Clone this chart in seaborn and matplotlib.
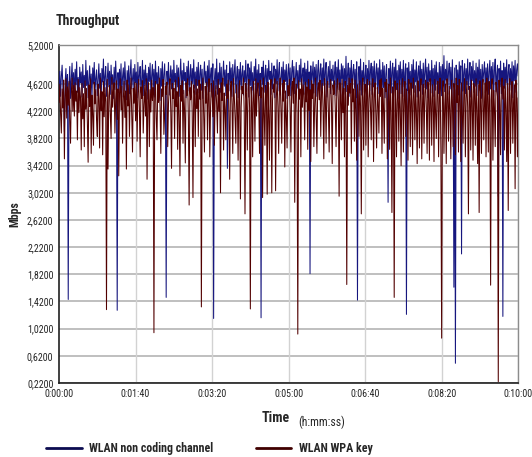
import pandas as pd
import matplotlib
matplotlib.use("Agg")
import matplotlib.pyplot as plt
from matplotlib.lines import Line2D
import seaborn as sns

# one sample per second over 10 minutes (0 .. 600 s)

# WLAN non coding channel (Mbps), 20 s per row
non_coding = [
    4.52, 4.81, 4.44, 4.73, 4.90, 4.58, 4.39, 3.92, 4.66, 4.85, 4.47, 4.76, 1.45, 4.62, 4.88, 4.41, 4.70, 4.93, 4.55, 4.79,
    4.46, 4.84, 4.61, 4.95, 4.50, 4.72, 4.38, 4.87, 4.64, 4.80, 4.43, 4.91, 4.57, 4.75, 4.48, 4.97, 4.60, 4.82, 4.42, 4.69,
    4.89, 4.53, 4.77, 4.40, 4.86, 4.63, 4.94, 4.49, 4.71, 4.83, 4.45, 4.68, 4.92, 4.56, 4.78, 4.37, 4.85, 4.65, 4.99, 4.51,
    4.74, 4.88, 4.44, 4.70, 4.93, 4.58, 4.81, 4.47, 4.90, 4.62, 4.76, 4.41, 4.87, 4.54, 4.96, 4.66, 1.29, 4.79, 4.50, 4.84,
    4.59, 4.92, 4.43, 4.73, 4.86, 4.52, 4.95, 4.68, 4.39, 4.82, 4.61, 4.89, 4.48, 4.77, 4.98, 4.55, 4.71, 4.85, 4.46, 4.91,
    4.64, 4.80, 4.42, 4.94, 4.57, 4.75, 4.88, 4.50, 4.69, 4.97, 4.45, 4.83, 4.60, 4.90, 4.53, 4.78, 4.40, 4.87, 4.66, 4.93,
    4.49, 4.74, 4.91, 4.56, 4.84, 4.43, 4.96, 4.63, 4.79, 4.51, 4.88, 4.70, 4.38, 4.85, 4.59, 4.95, 4.47, 4.76, 4.92, 4.54,
    1.48, 4.81, 4.62, 4.94, 4.46, 4.72, 4.89, 4.55, 4.83, 4.41, 4.97, 4.65, 4.78, 4.50, 4.90, 4.58, 4.86, 4.44, 4.75, 4.99,
    4.57, 4.82, 4.48, 4.93, 4.67, 4.79, 4.42, 4.88, 4.61, 4.96, 4.52, 4.74, 4.91, 4.45, 4.85, 4.63, 4.98, 4.56, 4.80, 4.47,
    4.87, 4.60, 4.94, 4.49, 4.77, 4.90, 4.53, 4.84, 4.41, 4.72, 4.95, 4.64, 4.81, 4.46, 4.89, 4.58, 4.97, 4.51, 4.76, 4.86,
    4.43, 4.92, 1.17, 4.68, 4.85, 4.55, 4.99, 4.47, 4.79, 4.62, 4.93, 4.50, 4.87, 4.40, 4.74, 4.96, 4.59, 4.83, 4.45, 4.90,
    3.38, 4.78, 4.52, 4.95, 4.64, 4.86, 4.44, 4.91, 4.57, 4.80, 4.98, 4.49, 4.73, 4.88, 4.42, 4.84, 4.61, 4.94, 4.54, 4.77,
    4.89, 4.46, 4.82, 4.65, 4.97, 4.51, 4.75, 4.92, 4.43, 4.86, 4.60, 4.95, 4.53, 4.79, 4.40, 4.88, 4.67, 4.99, 4.48, 4.83,
    4.56, 4.91, 4.45, 4.78, 1.18, 4.87, 4.62, 4.96, 4.50, 4.74, 4.90, 4.44, 4.85, 4.58, 4.97, 4.69, 4.81, 4.47, 4.93, 4.55,
    4.76, 4.89, 4.42, 4.84, 4.63, 4.98, 4.52, 4.80, 4.94, 4.46, 4.71, 4.87, 4.57, 4.95, 4.49, 4.83, 4.66, 4.91, 4.41, 4.78,
    4.92, 4.54, 4.86, 4.45, 4.79, 4.97, 4.60, 4.88, 4.48, 4.73, 4.94, 4.56, 4.82, 4.43, 4.90, 4.65, 4.99, 4.51, 4.77, 4.86,
    4.47, 4.93, 4.61, 4.84, 4.55, 4.96, 4.42, 4.80, 1.83, 4.89, 4.58, 4.75, 4.95, 4.49, 4.87, 4.64, 4.91, 4.44, 4.82, 4.97,
    4.53, 4.78, 4.92, 4.46, 4.86, 4.60, 4.99, 4.50, 4.81, 4.94, 4.43, 4.73, 4.88, 4.57, 4.96, 4.48, 4.84, 4.67, 4.90, 4.52,
    4.79, 4.95, 4.45, 4.87, 4.62, 4.98, 4.54, 4.83, 4.41, 4.92, 4.70, 4.89, 4.47, 4.85, 4.59, 5.03, 4.51, 4.77, 4.93, 4.44,
    4.86, 4.63, 4.97, 4.49, 4.80, 4.91, 4.56, 4.84, 4.42, 4.95, 1.44, 4.78, 4.88, 4.53, 4.99, 4.46, 4.82, 4.65, 4.94, 4.50,
    4.75, 4.90, 4.44, 4.85, 4.61, 4.97, 4.52, 4.81, 4.93, 4.47, 4.88, 4.58, 4.96, 4.43, 4.79, 4.92, 4.55, 4.86, 4.48, 4.98,
    4.62, 4.83, 4.46, 4.94, 4.57, 4.89, 4.42, 4.77, 4.91, 4.51, 2.88, 4.85, 4.60, 4.96, 4.49, 4.80, 4.93, 4.45, 4.87, 4.64,
    4.99, 4.54, 4.82, 4.41, 4.90, 4.68, 4.95, 4.48, 4.84, 4.58, 4.97, 4.44, 4.79, 4.92, 1.23, 4.86, 4.53, 4.94, 4.63, 4.81,
    4.46, 4.91, 4.56, 4.98, 4.50, 4.83, 4.65, 4.95, 4.43, 4.78, 4.89, 4.52, 4.96, 4.61, 4.84, 4.47, 4.93, 4.57, 4.80, 4.99,
    4.55, 4.87, 4.42, 4.92, 4.66, 4.82, 4.49, 4.97, 4.59, 4.85, 4.44, 4.90, 4.53, 4.95, 4.62, 4.79, 4.48, 4.94, 4.57, 4.88,
    4.45, 4.91, 4.60, 5.04, 4.51, 4.84, 4.68, 4.96, 4.47, 4.81, 4.93, 4.55, 4.87, 4.42, 4.98, 4.63, 1.63, 4.86, 0.51, 4.90,
    4.58, 4.83, 4.46, 4.95, 4.64, 4.89, 2.12, 4.97, 4.52, 4.80, 4.92, 4.48, 4.85, 4.61, 4.99, 4.54, 4.77, 4.94, 4.43, 4.88,
    4.67, 4.96, 4.50, 4.82, 4.59, 4.93, 4.45, 4.87, 4.62, 4.98, 4.53, 4.84, 4.41, 4.91, 4.65, 4.79, 4.95, 4.49, 4.86, 4.57,
    4.92, 4.47, 4.81, 4.97, 4.55, 4.88, 4.63, 4.94, 4.44, 4.83, 4.99, 4.51, 4.76, 4.90, 2.97, 4.85, 4.58, 4.96, 4.48, 4.82,
    1.20, 4.93, 4.56, 4.87, 4.64, 4.98, 4.46, 4.80, 4.91, 4.53, 4.85, 4.61, 4.95, 4.42, 4.89, 4.67, 4.97, 4.50, 4.83, 4.92,
    4.74,
]

# WLAN WPA key (Mbps), 20 s per row
wpa_key = [
    4.35, 4.62, 4.18, 3.90, 4.55, 4.27, 4.68, 3.52, 4.44, 4.70, 4.12, 4.58, 4.31, 4.66, 4.08, 3.75, 4.49, 4.71, 4.22, 4.60,
    4.15, 4.64, 4.37, 4.52, 3.80, 4.69, 4.20, 4.57, 4.43, 3.65, 4.63, 4.11, 4.48, 3.70, 4.67, 4.25, 4.56, 4.06, 3.47, 4.61,
    4.29, 4.70, 3.60, 4.46, 4.19, 3.72, 4.65, 4.33, 4.54, 4.09, 3.85, 4.62, 4.40, 3.68, 4.71, 4.23, 4.51, 3.58, 4.66, 4.14,
    4.57, 4.36, 1.30, 4.69, 3.37, 4.45, 4.60, 4.17, 3.82, 4.72, 4.28, 4.53, 4.64, 3.90, 4.39, 4.67, 4.10, 4.55, 3.27, 4.48,
    4.70, 4.24, 4.59, 3.75, 4.42, 4.66, 4.13, 4.52, 3.37, 4.68, 4.30, 4.61, 3.85, 4.47, 4.71, 4.19, 3.62, 4.56, 4.34, 4.65,
    4.08, 4.63, 3.78, 4.50, 4.69, 4.26, 3.55, 4.58, 4.41, 4.67, 3.90, 4.32, 4.60, 4.15, 4.70, 3.22, 4.46, 4.64, 3.70, 4.54,
    4.21, 4.68, 4.38, 4.57, 0.96, 4.49, 4.66, 4.12, 3.80, 4.62, 4.35, 4.71, 4.27, 3.60, 4.55, 4.44, 4.69, 3.88, 4.18, 4.59,
    4.47, 4.65, 3.70, 4.33, 4.58, 4.70, 4.22, 3.38, 4.63, 4.41, 4.56, 3.82, 4.68, 4.29, 4.51, 3.66, 4.72, 4.16, 3.27, 4.60,
    4.37, 4.67, 3.75, 4.53, 4.24, 3.46, 4.64, 4.45, 4.70, 4.11, 2.84, 4.57, 4.39, 4.66, 4.20, 2.95, 4.61, 4.48, 3.70, 4.69,
    4.26, 4.55, 3.85, 4.68, 4.40, 4.62, 1.34, 4.50, 4.71, 4.17, 3.62, 4.59, 4.34, 4.65, 3.80, 4.46, 4.70, 3.55, 4.28, 4.63,
    4.52, 4.14, 4.67, 3.72, 4.43, 4.60, 4.30, 3.90, 4.69, 4.22, 4.56, 3.02, 4.64, 4.38, 4.71, 3.65, 4.49, 4.25, 3.80, 4.62,
    4.41, 4.68, 4.19, 3.22, 4.57, 4.66, 4.32, 3.60, 4.70, 4.45, 4.13, 3.75, 4.61, 4.36, 3.50, 4.54, 4.67, 2.93, 4.28, 4.59,
    4.48, 4.71, 4.20, 2.71, 4.63, 4.40, 3.65, 4.55, 4.69, 4.27, 1.31, 4.58, 4.35, 3.55, 4.66, 4.46, 3.78, 4.70, 4.15, 4.53,
    4.64, 4.33, 3.60, 4.68, 4.42, 4.57, 2.95, 4.71, 4.24, 3.72, 4.60, 4.47, 3.00, 4.65, 4.18, 3.50, 4.56, 4.69, 3.02, 4.38,
    4.62, 4.50, 4.70, 3.05, 4.44, 4.66, 4.29, 3.60, 4.58, 4.71, 4.21, 3.75, 4.63, 4.37, 4.68, 3.40, 4.52, 4.16, 3.68, 4.60,
    4.45, 4.69, 4.26, 3.62, 4.57, 4.66, 4.34, 4.71, 2.88, 4.49, 4.62, 4.19, 0.94, 4.67, 4.40, 4.55, 3.55, 4.70, 4.28, 4.61,
    4.48, 3.80, 4.65, 4.36, 4.58, 3.66, 4.69, 4.23, 4.54, 3.48, 4.67, 4.41, 4.62, 3.70, 4.30, 4.71, 4.17, 3.60, 4.56, 4.64,
    4.39, 4.68, 3.85, 4.50, 4.63, 4.27, 3.52, 4.70, 4.44, 3.75, 4.59, 4.66, 4.21, 3.62, 4.55, 4.69, 4.33, 3.45, 4.61, 4.47,
    4.67, 4.25, 3.70, 4.58, 4.70, 4.38, 2.97, 4.64, 4.46, 3.80, 4.69, 4.20, 4.56, 3.55, 4.66, 4.42, 1.67, 4.60, 4.31, 4.71,
    4.49, 4.63, 3.60, 4.70, 4.36, 4.55, 3.78, 4.68, 4.24, 3.50, 4.61, 4.45, 3.85, 4.67, 4.30, 2.71, 4.58, 4.71, 3.65, 4.43,
    4.62, 3.72, 4.53, 4.69, 3.55, 4.40, 4.66, 4.27, 3.80, 4.60, 4.70, 3.48, 4.47, 4.64, 4.19, 3.68, 4.57, 4.35, 3.90, 4.68,
    4.44, 4.70, 3.60, 4.56, 4.28, 3.75, 4.65, 4.51, 4.69, 3.52, 4.39, 4.62, 3.66, 4.71, 4.22, 2.73, 4.58, 4.46, 1.48, 4.67,
    4.32, 3.55, 4.63, 4.50, 3.78, 4.68, 4.25, 3.42, 4.59, 4.70, 3.62, 4.41, 4.66, 3.85, 4.55, 4.29, 3.50, 4.69, 4.47, 3.70,
    4.64, 4.36, 3.58, 4.71, 4.52, 3.80, 4.60, 4.23, 3.45, 4.67, 4.43, 3.68, 4.57, 4.70, 3.52, 4.34, 4.62, 3.75, 4.49, 4.68,
    4.27, 3.60, 4.65, 4.54, 3.50, 4.70, 4.38, 3.72, 4.61, 4.45, 3.48, 4.69, 4.21, 3.82, 4.58, 4.66, 3.55, 4.42, 4.71, 3.65,
    0.88, 4.55, 4.67, 3.60, 4.30, 4.62, 3.45, 4.70, 4.48, 3.78, 4.59, 4.25, 3.52, 4.68, 4.40, 3.70, 4.63, 4.53, 3.58, 4.71,
    4.35, 4.60, 3.62, 4.69, 4.46, 3.48, 4.64, 4.22, 3.75, 4.57, 4.70, 3.55, 4.41, 4.66, 4.28, 2.71, 4.59, 4.50, 3.65, 4.68,
    4.37, 3.50, 4.63, 4.55, 3.72, 4.70, 4.24, 3.45, 4.61, 2.73, 4.67, 4.43, 3.60, 4.58, 4.69, 3.80, 4.32, 4.64, 3.55, 4.71,
    4.48, 3.62, 4.66, 4.39, 1.66, 4.60, 4.70, 3.50, 4.53, 4.27, 3.70, 4.65, 4.57, 4.44, 0.24, 4.68, 4.31, 3.58, 4.62, 4.71,
    4.40, 4.59, 3.65, 4.69, 4.26, 3.48, 4.63, 2.76, 4.55, 4.70, 3.60, 4.45, 4.66, 3.75, 4.34, 4.61, 3.08, 4.68, 4.50, 3.55,
    4.42,
]

y_ticks = [0.22, 0.62, 1.02, 1.42, 1.82, 2.22, 2.62, 3.02, 3.42, 3.82, 4.22, 4.62, 5.20]
x_ticks = [0, 100, 200, 300, 400, 500, 600]
x_labels = ["0:00:00", "0:01:40", "0:03:20", "0:05:00", "0:06:40", "0:08:20", "0:10:00"]
series_names = ["WLAN non coding channel", "WLAN WPA key"]

df_blue = pd.DataFrame({"t": range(len(non_coding)), "mbps": non_coding})
df_red = pd.DataFrame({"t": range(len(wpa_key)), "mbps": wpa_key})

sns.set_style("white")
plt.rcParams["font.family"] = ["Liberation Sans Narrow", "Roboto Condensed", "Liberation Sans", "DejaVu Sans"]

fig = plt.figure(figsize=(5.32, 4.57), dpi=100)
ax = fig.add_axes([0.111, 0.162, 0.863, 0.740])

sns.lineplot(data=df_blue, x="t", y="mbps", color="#16167e", lw=0.75, ax=ax, zorder=3)
sns.lineplot(data=df_red, x="t", y="mbps", color="#520000", lw=0.75, ax=ax, zorder=4)

ax.set_xlim(0, 600)
ax.set_ylim(0.22, 5.2)
ax.set_yticks(y_ticks)
ax.set_yticklabels([f"{v:.4f}".replace(".", ",") for v in y_ticks], fontsize=7.2)
ax.set_xticks(x_ticks)
ax.set_xticklabels(x_labels, fontsize=7.2)

for v in y_ticks[:-1]:
    ax.axhline(v, color="#b4b4b4", lw=1.2, zorder=1)
for v in x_ticks[1:]:
    ax.axvline(v, color="#d2d2d2", lw=1.0, zorder=1)

for side in ["top", "right"]:
    ax.spines[side].set_color("#8c8c8c")
    ax.spines[side].set_linewidth(1.0)
for side in ["left", "bottom"]:
    ax.spines[side].set_color("#202020")
    ax.spines[side].set_linewidth(1.2)
ax.tick_params(axis="both", direction="out", length=3, width=0.8, color="#202020", pad=1)

ax.set_xlabel("")
ax.set_ylabel("Mbps", fontsize=8.5, fontweight="bold")
ax.yaxis.set_label_coords(-0.083, 0.5)

fig.text(0.104, 0.955, "Throughput", fontsize=10, fontweight="bold", ha="left", va="center")
fig.text(0.4925, 0.085, "Time", fontsize=10, fontweight="bold", ha="left", va="center")
fig.text(0.560, 0.075, "(h:mm:ss)", fontsize=8.5, ha="left", va="center")

handles = [Line2D([], [], color="#0c0c50", lw=2), Line2D([], [], color="#400000", lw=2)]
fig.legend(handles, series_names, loc="lower left", bbox_to_anchor=(0.066, -0.02),
           ncol=2, frameon=False, handlelength=3.0, columnspacing=3.5,
           handletextpad=0.65, prop={"size": 8.6, "weight": "bold"})

fig.savefig("out.png", dpi=100, facecolor="white")
